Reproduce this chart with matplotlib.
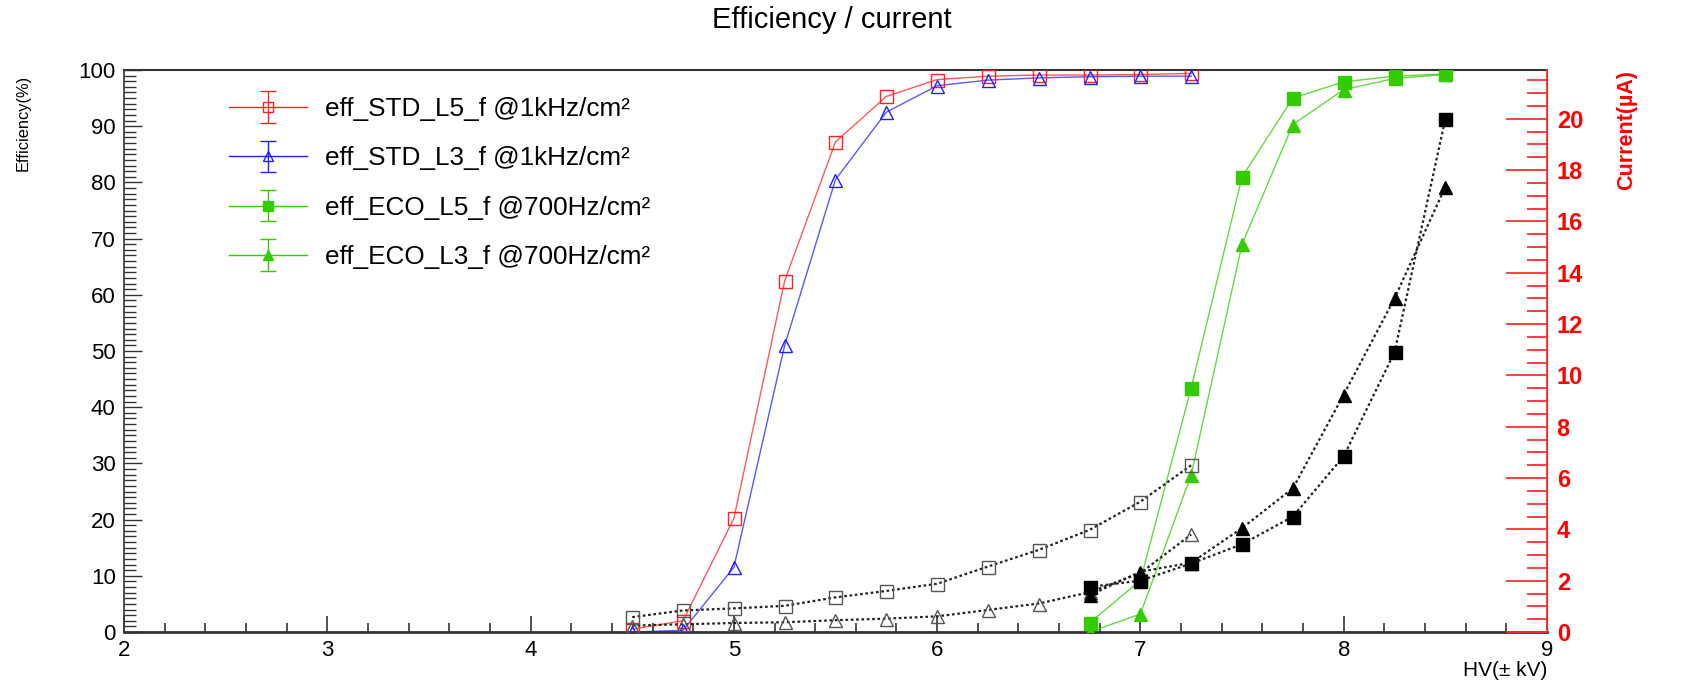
import numpy as np
import matplotlib
matplotlib.use("Agg")
from matplotlib import pyplot as plt
from matplotlib.legend_handler import HandlerErrorbar
from matplotlib.ticker import MultipleLocator

plt.rcParams['font.family'] = ['Liberation Sans', 'DejaVu Sans']

# HV points (kV)
hv_std = [4.5, 4.75, 5.0, 5.25, 5.5, 5.75, 6.0, 6.25, 6.5, 6.75, 7.0, 7.25]
hv_eco = [6.75, 7.0, 7.25, 7.5, 7.75, 8.0, 8.25, 8.5]

# efficiency (%)
eff_std_l5 = [0.5, 2.0, 20.2, 62.5, 87.2, 95.3, 98.3, 98.9, 99.1, 99.1, 99.2, 99.4]
eff_std_l3 = [0.0, 0.3, 11.5, 51.0, 80.5, 92.5, 97.2, 98.2, 98.6, 98.8, 98.9, 98.9]
eff_eco_l5 = [1.6, 9.2, 43.5, 81.0, 95.0, 97.9, 98.9, 99.3]
eff_eco_l3 = [0.0, 3.2, 28.0, 69.0, 90.3, 96.5, 98.5, 99.2]

# current (uA)
cur_std_l5 = [0.58, 0.84, 0.92, 1.02, 1.35, 1.6, 1.88, 2.55, 3.2, 3.98, 5.08, 6.5]
cur_std_l3 = [0.25, 0.3, 0.35, 0.38, 0.46, 0.52, 0.61, 0.86, 1.11, 1.55, 2.3, 3.8]
cur_eco_l5 = [1.76, 2.0, 2.67, 3.42, 4.5, 6.85, 10.9, 20.0]
cur_eco_l3 = [1.43, 2.35, 2.7, 4.05, 5.6, 9.25, 13.0, 17.35]

labels = ['eff_STD_L5_f @1kHz/cm²', 'eff_STD_L3_f @1kHz/cm²',
          'eff_ECO_L5_f @700Hz/cm²', 'eff_ECO_L3_f @700Hz/cm²']

RED = '#ff2020'
BLUE = '#2020ff'
GREEN = '#33cc00'
PX = 0.72  # points per pixel at dpi 100

fig = plt.figure(figsize=(16.84, 6.83), dpi=100)
ax = fig.add_axes([124/1684, 1 - 632/683, (1547 - 124)/1684, (632 - 70)/683])
ax.set_xlim(2, 9)
ax.set_ylim(0, 100)

ms = 13 * PX
effs = [(hv_std, eff_std_l5, RED, 's', 'none'),
        (hv_std, eff_std_l3, BLUE, '^', 'none'),
        (hv_eco, eff_eco_l5, GREEN, 's', GREEN),
        (hv_eco, eff_eco_l3, GREEN, '^', GREEN)]
handles = []
for x, y, c, m, fc in effs:
    ax.plot(x, y, color=c, lw=1.0, alpha=0.75, zorder=2)
    ax.plot(x, y, ls='none', marker=m, ms=ms, mfc=fc, mec=c, mew=1.0, zorder=3)
    h = ax.errorbar([np.nan], [np.nan], yerr=[1], color=c, lw=1.0, marker=m,
                    ms=ms * 0.8, mfc=fc, mec=c, capsize=5.5, elinewidth=1.0)
    handles.append(h)

ax.xaxis.set_major_locator(MultipleLocator(1))
ax.xaxis.set_minor_locator(MultipleLocator(0.2))
ax.yaxis.set_major_locator(MultipleLocator(10))
ax.yaxis.set_minor_locator(MultipleLocator(1))
ax.tick_params(axis='x', which='major', direction='in', length=16 * PX, width=1.2,
               color='#333333', labelsize=16, pad=6)
ax.tick_params(axis='x', which='minor', direction='in', length=9 * PX, width=1.2,
               color='#333333')
ax.tick_params(axis='y', which='major', direction='in', length=18 * PX, width=1.0,
               color='#333333', labelsize=16, pad=6, right=False)
ax.tick_params(axis='y', which='minor', direction='in', length=12 * PX, width=1.0,
               color='#333333', right=False)
for s in ['left', 'bottom', 'top']:
    ax.spines[s].set_color('#333333')
ax.spines['bottom'].set_linewidth(2.0)
ax.spines['left'].set_linewidth(1.2)
ax.spines['top'].set_linewidth(1.5)

ax2 = ax.twinx()
ax2.set_ylim(0, 21.9)
curs = [(hv_std, cur_std_l5, 's', 'none'),
        (hv_std, cur_std_l3, '^', 'none'),
        (hv_eco, cur_eco_l5, 's', 'black'),
        (hv_eco, cur_eco_l3, '^', 'black')]
for x, y, m, fc in curs:
    ec = '#555555' if fc == 'none' else 'black'
    ax2.plot(x, y, color='#222222', lw=1.6, ls=(0, (1.2, 1.2)), zorder=2)
    ax2.plot(x, y, ls='none', marker=m, ms=ms, mfc=fc, mec=ec, mew=1.0, zorder=3)

ax2.yaxis.set_major_locator(MultipleLocator(2))
ax2.yaxis.set_minor_locator(MultipleLocator(0.5))
ax2.tick_params(axis='y', which='major', direction='in', length=41 * PX, width=1.3,
                colors='#ff3030', labelsize=17, pad=7)
ax2.tick_params(axis='y', which='minor', direction='in', length=20 * PX, width=1.3,
                color='#ff3030')
for lab in ax2.get_yticklabels():
    lab.set_fontweight('bold')
    lab.set_color('red')
ax2.spines['right'].set_color('#ff3030')
ax2.spines['right'].set_linewidth(1.3)
for s in ['left', 'bottom', 'top']:
    ax2.spines[s].set_visible(False)

fig.text(832/1684, 1 - 20/683, 'Efficiency / current', ha='center', va='center',
         fontsize=21)
fig.text(23/1684, 1 - 75/683, 'Efficiency(%)', rotation=90, ha='center', va='top',
         fontsize=11.8)
fig.text(1627/1684, 1 - 70/683, 'Current(µA)', rotation=90, ha='center', va='top',
         fontsize=15.5, fontweight='bold', color='red')
fig.text(1547/1684, 1 - 671/683, 'HV(± kV)', ha='right', va='center', fontsize=15)

ax.legend(handles, labels, loc='upper left', bbox_to_anchor=(229/1684, 1 - 97/683),
          bbox_transform=fig.transFigure, frameon=False, fontsize=18.8,
          borderpad=0, borderaxespad=0, handlelength=3.0, handletextpad=0.69,
          labelspacing=0.97,
          handler_map={type(handles[0]): HandlerErrorbar(xerr_size=0.6)})

fig.savefig('out.png', dpi=100)
